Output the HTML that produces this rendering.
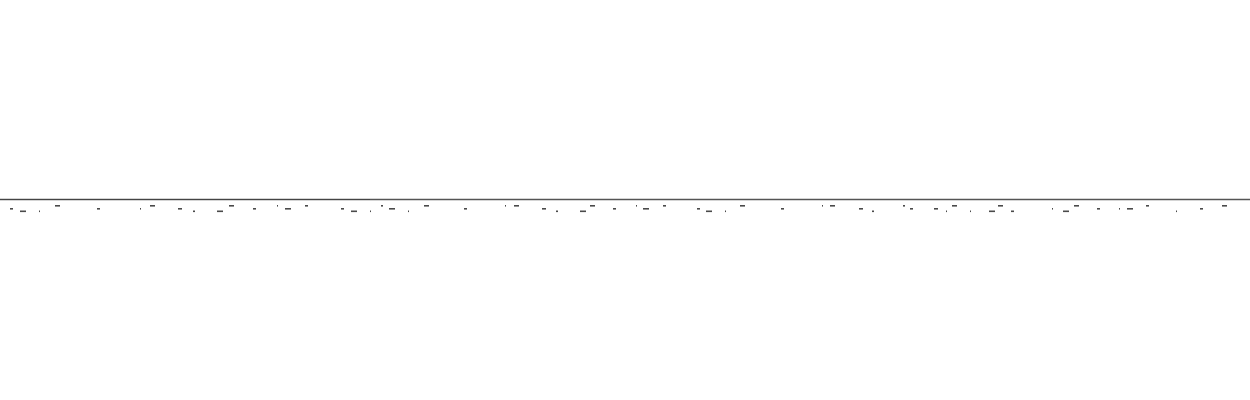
<!DOCTYPE html>
<html><head><meta charset="utf-8"><style>
html,body{margin:0;padding:0;background:#fff;width:1250px;height:400px;overflow:hidden}
svg{display:block}
</style></head><body>
<svg id="chart" width="1250" height="400" viewBox="0 0 1250 400">
<rect x="0" y="0" width="1250" height="400" fill="#fff"/>
<line x1="0" y1="199.5" x2="1250" y2="199.5" stroke="#555" stroke-width="1.5"/>
<line x1="0" y1="199.5" x2="370" y2="199.5" stroke="#444" stroke-width="1"/>
<g id="marks"></g>
</svg>
<script>
const markX=[10,20,39,55,97,140,150,178,193,217,229,253,277,285,305,341,351,370,381,389,408,424,464,505,514,542,556,580,590,613,636,643,663,697,706,725,740,781,822,830,859,872,903,910,934,946,952,970,989,998,1011,1052,1063,1074,1097,1119,1127,1146,1176,1200,1222];
const markRow=["m","b","b","t","m","m","t","m","b","b","t","m","t","m","t","m","b","b","t","m","b","t","m","t","t","m","b","b","t","m","t","m","t","m","b","b","t","m","t","t","m","b","t","m","m","b","t","b","b","t","b","m","b","t","m","m","m","t","b","m","t"];
const markW=[3,6,1,5,3,1,5,4,2,6,5,3,1,6,3,3,6,1,2,6,1,5,3,1,5,4,2,6,5,3,1,6,3,3,6,1,5,3,1,5,4,2,2,3,4,1,5,1,6,5,3,1,6,5,3,1,6,3,1,3,5];
const rowY={t:205,m:208,b:210.5};
const g=document.getElementById('marks');
const NS='http://www.w3.org/2000/svg';
for(let i=0;i<markX.length;i++){
  const r=document.createElementNS(NS,'rect');
  r.setAttribute('x',markX[i]);
  r.setAttribute('y',rowY[markRow[i]]);
  r.setAttribute('width',markW[i]);
  r.setAttribute('height',1.6);
  r.setAttribute('fill','#4a4a4a');
  
  
  g.appendChild(r);
}
</script>
</body></html>
